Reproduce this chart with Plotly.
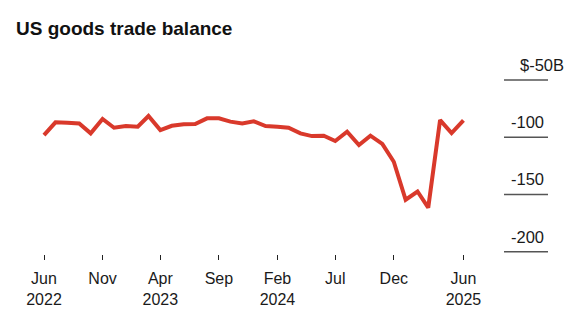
import pandas as pd
import plotly.graph_objects as go

# ---- data ----
months = pd.date_range("2022-06-01", "2025-06-01", freq="MS")
balance = [-98.1, -87.0, -87.3, -87.9, -96.6, -84.1, -91.7, -90.2, -90.8, -81.5,
           -93.7, -90.0, -88.7, -88.5, -83.5, -83.5, -86.4, -87.9, -86.1, -90.2,
           -90.8, -91.7, -96.6, -99.0, -98.7, -103.3, -95.2, -106.8, -98.6, -105.8,
           -121.4, -154.6, -147.4, -161.5, -85.0, -96.3, -85.3]
x_tick_dates = ["2022-06-01", "2022-11-01", "2023-04-01", "2023-09-01", "2024-02-01",
                "2024-07-01", "2024-12-01", "2025-06-01"]
x_tick_text = ["Jun<br>2022", "Nov", "Apr<br>2023", "Sep", "Feb<br>2024", "Jul", "Dec",
               "Jun<br>2025"]
y_tick_vals = [-50, -100, -150, -200]
y_tick_text = ["$-50B", "-100", "-150", "-200"]

W, H = 575, 322
FONT = "Liberation Sans, Arial, sans-serif"
RED = "#d9392b"

# x scale: ~0.3827 px per day, Jun 2022 at px 44
px_per_day = 0.3827
x0 = pd.Timestamp("2022-06-01") - pd.Timedelta(days=44 / px_per_day)
x1 = x0 + pd.Timedelta(days=W / px_per_day)

fig = go.Figure()
fig.add_trace(go.Scatter(
    x=months, y=balance, mode="lines",
    line=dict(color=RED, width=4),
    hoverinfo="skip", showlegend=False,
))

shapes = []
annotations = []
for v, t in zip(y_tick_vals, y_tick_text):
    shapes.append(dict(type="line", xref="paper", yref="y",
                       x0=504 / W, x1=548 / W, y0=v, y1=v,
                       line=dict(color="#555555", width=1.5)))
    annotations.append(dict(
        xref="paper", yref="y", x=(566 if t.startswith("$") else 546) / W, y=v,
        text=t, showarrow=False, xanchor="right", yanchor="middle", yshift=15,
        font=dict(family=FONT, size=16.5, color="#1a1a1a")))

fig.update_layout(
    width=W, height=H,
    margin=dict(l=0, r=0, t=60, b=62),
    paper_bgcolor="white", plot_bgcolor="white",
    title=dict(text="<b>US goods trade balance</b>", x=16 / W, xanchor="left",
               xref="paper", y=1 - 28 / H, yanchor="middle", yref="container",
               font=dict(family=FONT, size=19, color="#111111")),
    xaxis=dict(type="date", range=[x0, x1], showgrid=False, zeroline=False,
               showline=False, ticks="inside", ticklen=5, tickwidth=1.2,
               tickcolor="#222222", tickvals=x_tick_dates, ticktext=x_tick_text,
               tickfont=dict(family=FONT, size=16, color="#1a1a1a"),
               ticklabelstandoff=7),
    yaxis=dict(range=[-207.25, -32.53], visible=False, fixedrange=True),
    shapes=shapes, annotations=annotations,
)

fig.write_html("out.html")
